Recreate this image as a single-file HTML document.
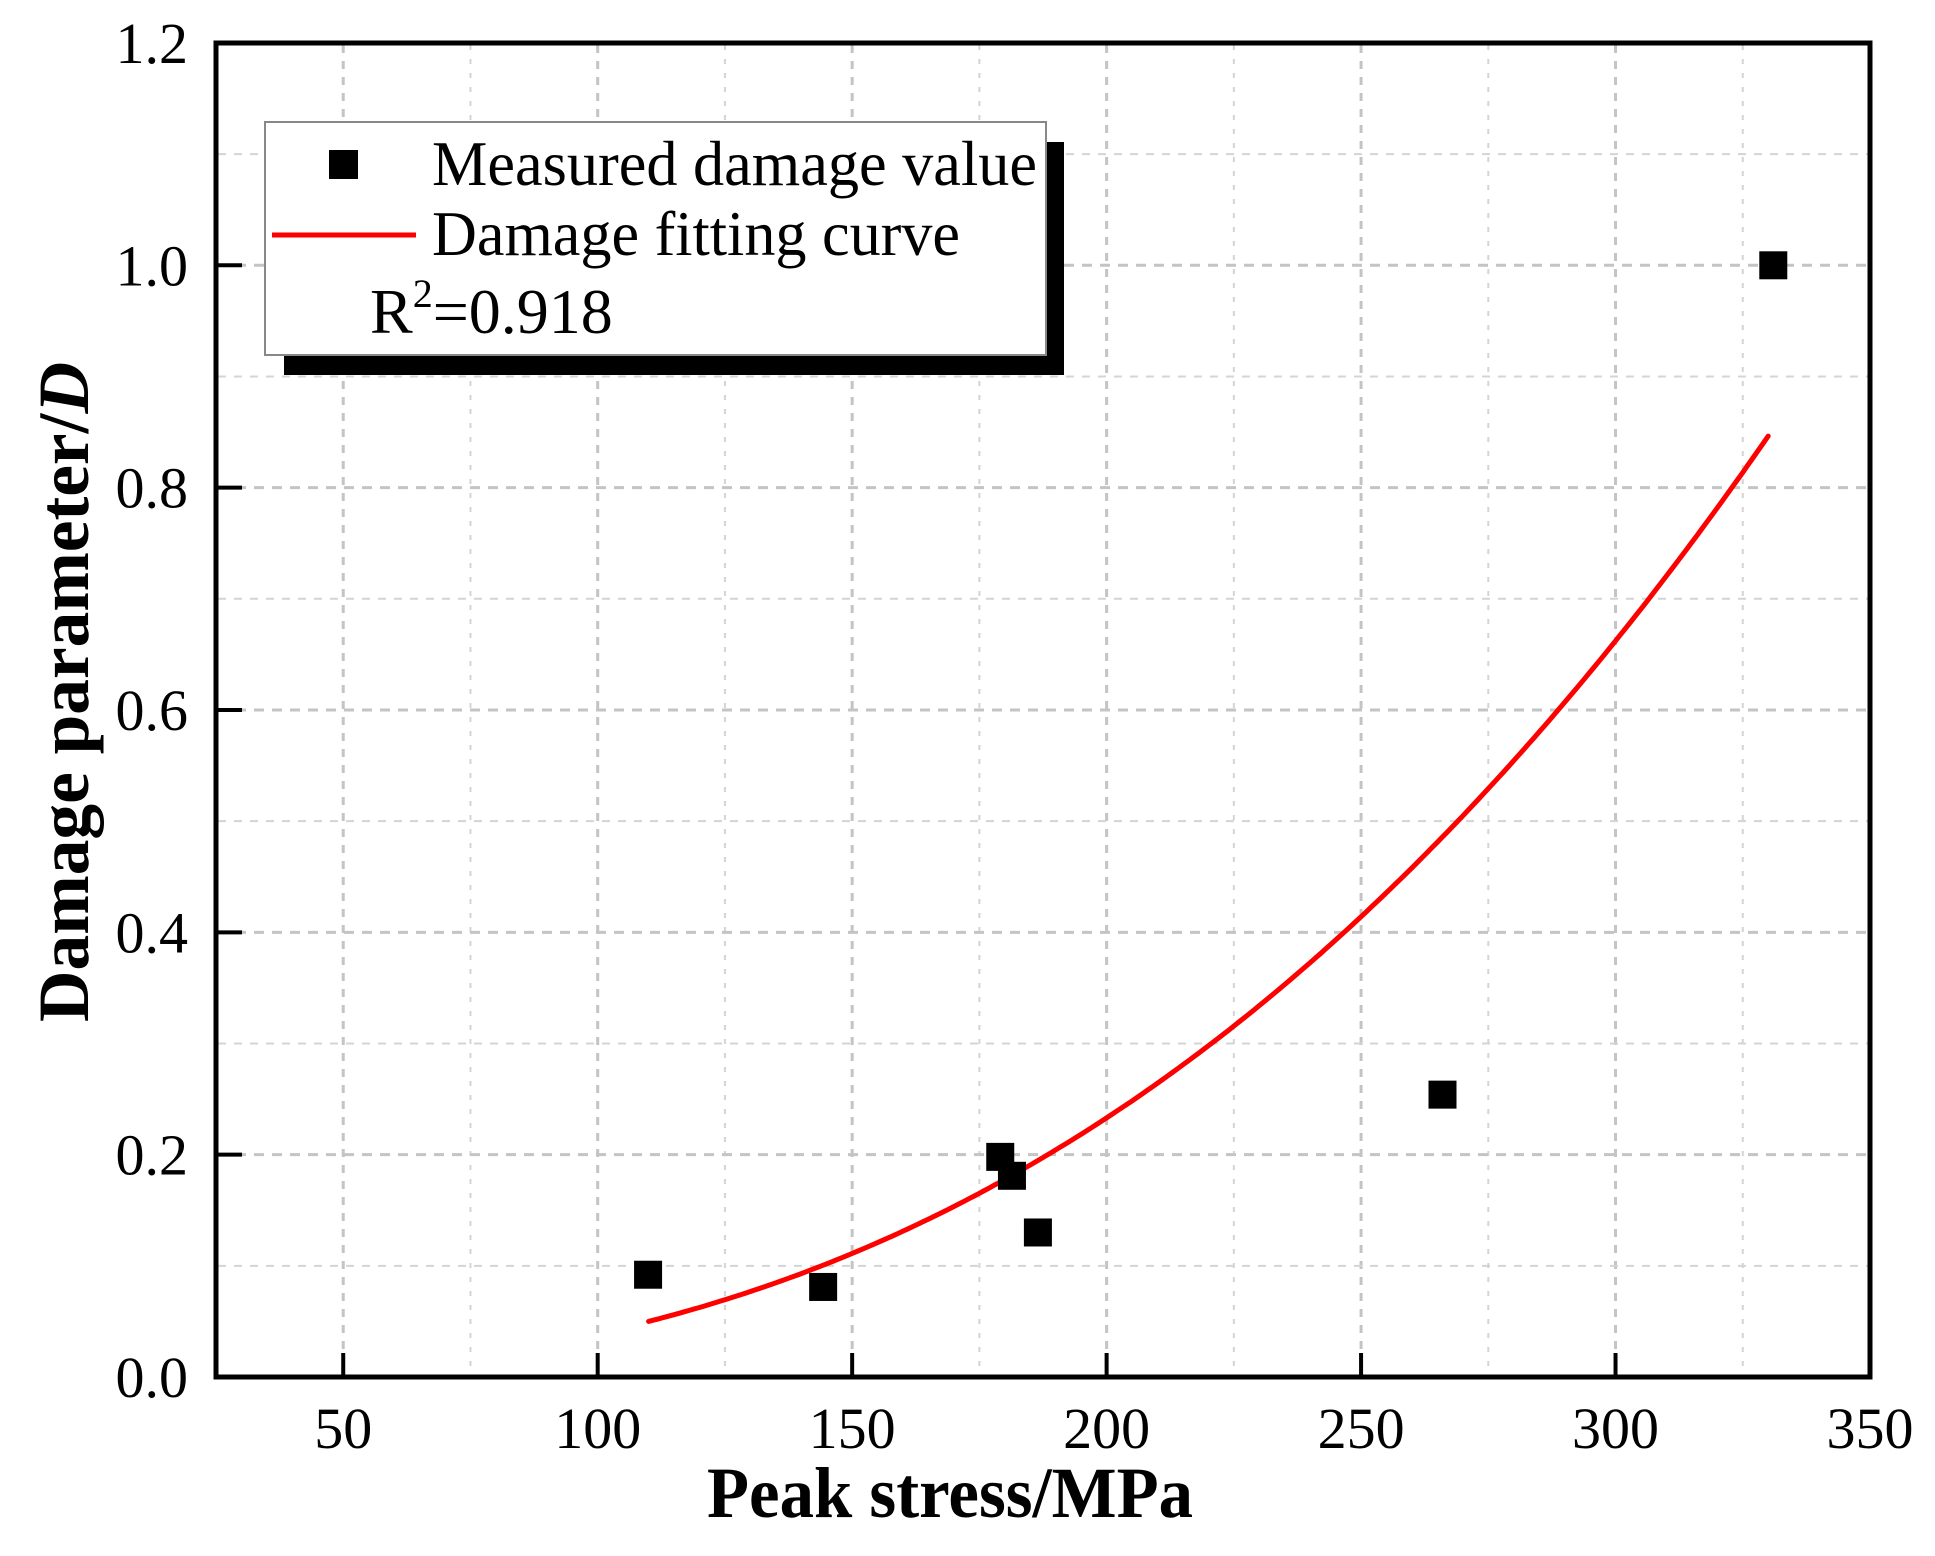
<!DOCTYPE html>
<html><head><meta charset="utf-8"><style>
html,body{margin:0;padding:0;background:#fff;}
svg{display:block;}
text{font-family:"Liberation Serif",serif;fill:#000;}
</style></head><body>
<svg id="s" width="1935" height="1556" viewBox="0 0 1935 1556" xmlns="http://www.w3.org/2000/svg">
<g id="grid"></g>
<path id="curve" fill="none" stroke="#ff0000" stroke-width="5" stroke-linecap="round"/>
<g id="pts"></g>
<!-- legend -->
<rect x="284" y="142" width="780" height="233" fill="#000"/>
<rect x="265" y="122" width="781" height="233" fill="#fff" stroke="#888" stroke-width="2"/>
<rect x="329" y="150" width="29" height="29" fill="#000"/>
<line x1="272" y1="235" x2="416" y2="235" stroke="#ff0000" stroke-width="5"/>
<text x="432" y="185" font-size="64" textLength="605" lengthAdjust="spacingAndGlyphs">Measured damage value</text>
<text x="432" y="255" font-size="64" textLength="528" lengthAdjust="spacingAndGlyphs">Damage fitting curve</text>
<text x="370" y="333" font-size="64">R<tspan font-size="40" dy="-26">2</tspan><tspan dy="26">=0.918</tspan></text>
<!-- axes -->
<rect x="216" y="43" width="1654" height="1334" fill="none" stroke="#000" stroke-width="5"/>
<g id="ticks"></g>
<text x="950" y="1517" font-size="72" font-weight="bold" text-anchor="middle" textLength="486" lengthAdjust="spacingAndGlyphs">Peak stress/MPa</text>
<text transform="translate(88,692) rotate(-90)" font-size="72" font-weight="bold" text-anchor="middle" textLength="660" lengthAdjust="spacingAndGlyphs">Damage parameter/<tspan font-style="italic">D</tspan></text>
</svg>
<script>
var NS="http://www.w3.org/2000/svg";
function X(v){return 216+(v-25)*5.0892;}
function Y(v){return 1377-v*1111.7;}
function el(p,t,a,txt){var e=document.createElementNS(NS,t);for(var k in a)e.setAttribute(k,a[k]);if(txt!==undefined)e.textContent=txt;document.getElementById(p).appendChild(e);return e;}
for(var x=50;x<350;x+=25){var maj=(x%50==0);el('grid','line',{x1:X(x),y1:45,x2:X(x),y2:1375,stroke:maj?'#c4c4c4':'#d4d4d4','stroke-width':maj?3:2,'stroke-dasharray':maj?'8 8':'5 9'});}
for(var i=1;i<12;i++){var y=i/10;var maj=(i%2==0);el('grid','line',{x1:218,y1:Y(y),x2:1868,y2:Y(y),stroke:maj?'#c4c4c4':'#d4d4d4','stroke-width':maj?3:2,'stroke-dasharray':maj?'10 8':'8 8'});}
for(var x=50;x<=350;x+=50){if(x<350)el('ticks','line',{x1:X(x),y1:1377,x2:X(x),y2:1353,stroke:'#000','stroke-width':4});el('ticks','text',{x:X(x),y:1448,'font-size':58,'text-anchor':'middle'},String(x));}
for(var i=0;i<=6;i++){var y=i*0.2;if(i>0&&i<6)el('ticks','line',{x1:216,y1:Y(y),x2:242,y2:Y(y),stroke:'#000','stroke-width':4});el('ticks','text',{x:188,y:Y(y)+20,'font-size':58,'text-anchor':'end'},y.toFixed(1));}
var d='';for(var x=110;x<=330;x+=1){var v=0.05*Math.pow(x/110,2.575);d+=(d?'L':'M')+X(x).toFixed(1)+','+Y(v).toFixed(1);}
document.getElementById('curve').setAttribute('d',d);
var P=[[109.9,0.092],[144.3,0.081],[179.1,0.198],[181.4,0.181],[186.5,0.130],[266,0.254],[331,1.0]];
P.forEach(function(p){el('pts','rect',{x:X(p[0])-14,y:Y(p[1])-14,width:28,height:28,fill:'#000'});});
</script>
</body></html>
